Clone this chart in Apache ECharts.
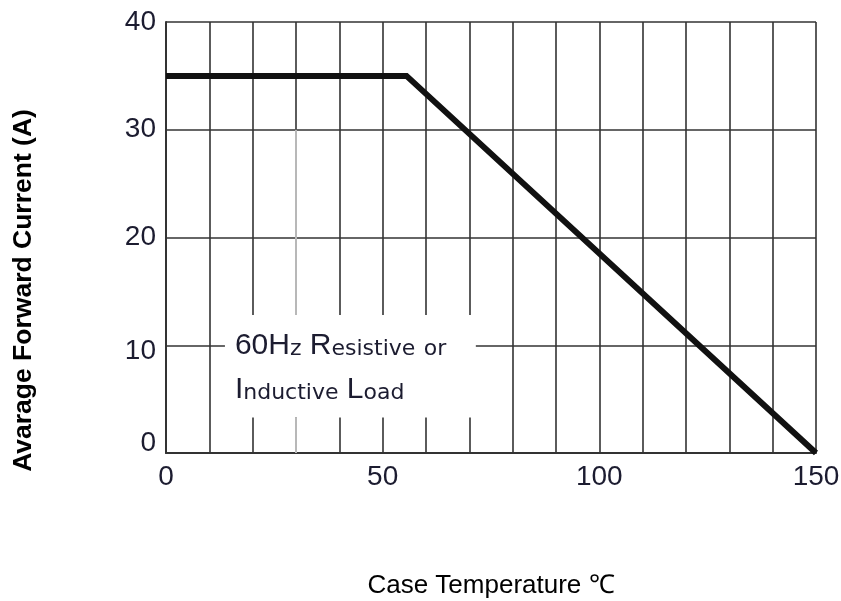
<!DOCTYPE html>
<html>
<head>
<meta charset="utf-8">
<script src="https://cdn.jsdelivr.net/npm/echarts@6/dist/echarts.min.js"></script>
<style>html,body{margin:0;padding:0;background:#fff;}#c{width:841px;height:601px;}</style>
</head>
<body>
<div id="c"></div>
<script>
// Data
const curveX = [0, 55.5, 150];
const curveY = [35, 35, 0];
const xTickLabels = [0, 50, 100, 150];
const yTickLabels = [0, 10, 20, 30, 40];
const noteLines = ['60Hz Resistive or', 'Inductive Load'];
const noteBox = { x0: 13.6, x1: 71.5, y0: 3.3, y1: 12.8 };

const chart = echarts.init(document.getElementById('c'));
const gridColor = '#333333';
const labelFont = '"Liberation Sans Narrow", "Arial Narrow", "Liberation Sans", Arial, sans-serif';

function smallCaps(line) {
  let out = '';
  let buf = '', mode = null;
  for (const ch of line) {
    const m = (/[a-z]/.test(ch)) ? 's' : 'b';
    if (mode !== null && m !== mode) { out += '{' + mode + '|' + buf + '}'; buf = ''; }
    mode = m; buf += ch;
  }
  if (buf) out += '{' + mode + '|' + buf + '}';
  return out;
}

const option = {
  animation: false,
  backgroundColor: '#fff',
  grid: { left: 166, right: 25, top: 22, bottom: 148, containLabel: false, outerBoundsMode: 'none' },
  xAxis: {
    type: 'value', min: 0, max: 150, interval: 10,
    name: 'Case Temperature ℃', nameLocation: 'middle', nameGap: 120,
    nameTextStyle: { fontFamily: '"Liberation Sans", Arial, sans-serif', fontSize: 26, color: '#000' },
    axisLine: { show: true, lineStyle: { color: gridColor, width: 2 } },
    axisTick: { show: false },
    splitLine: { show: true, lineStyle: { color: gridColor, width: 1.6 } },
    axisLabel: {
      margin: 10, fontFamily: labelFont, fontSize: 28, color: '#1c1c30',
      formatter: v => xTickLabels.includes(v) ? String(v) : ''
    }
  },
  yAxis: {
    type: 'value', min: 0, max: 40, interval: 10,
    name: 'Avarage Forward Current (A)', nameLocation: 'middle', nameGap: 129,
    nameTextStyle: { fontFamily: '"Liberation Sans", Arial, sans-serif', fontSize: 26.5, fontWeight: 'bold', color: '#000', padding: [0, 106, 0, 0] },
    axisLine: { show: true, lineStyle: { color: gridColor, width: 2 } },
    axisTick: { show: false },
    splitLine: { show: true, lineStyle: { color: gridColor, width: 1.6 } },
    axisLabel: {
      margin: 10, fontFamily: labelFont, fontSize: 28, color: '#1c1c30',
      formatter: v => {
        if (!yTickLabels.includes(v)) return '';
        if (v === 0) return '{up|' + v + '}';
        if (v === 10) return '{dn|' + v + '}';
        return String(v);
      },
      rich: {
        up: { fontFamily: labelFont, fontSize: 28, color: '#1c1c30', padding: [0, 0, 20, 0] },
        dn: { fontFamily: labelFont, fontSize: 28, color: '#1c1c30', padding: [13, 0, 0, 0] }
      }
    }
  },
  series: [
    {
      type: 'line',
      data: curveX.map((x, i) => [x, curveY[i]]),
      symbol: 'none',
      lineStyle: { color: '#111', width: 6, join: 'miter' },
      z: 5,
      markArea: {
        silent: true,
        itemStyle: { color: '#fff', opacity: 1 },
        label: {
          show: true, position: 'insideLeft', distance: 10, offset: [0, -6],
          formatter: noteLines.map(smallCaps).join('\n'),
          rich: {
            b: { fontFamily: '"Liberation Sans", Arial, sans-serif', fontSize: 30, color: '#1c1c30', lineHeight: 44, verticalAlign: 'bottom' },
            s: { fontFamily: '"DejaVu Sans", sans-serif', fontSize: 22, color: '#1c1c30', lineHeight: 39, verticalAlign: 'bottom' }
          }
        },
        data: [[{ coord: [noteBox.x0, noteBox.y1] }, { coord: [noteBox.x1, noteBox.y0] }]]
      },
      markLine: {
        silent: true, symbol: 'none', label: { show: false },
        lineStyle: { color: '#b8b8b8', width: 2, type: 'solid' },
        data: [
          [{ coord: [30, 0] }, { coord: [30, noteBox.y0] }],
          [{ coord: [30, noteBox.y1] }, { coord: [30, 30] }]
        ]
      }
    }
  ]
};
chart.setOption(option);
</script>
</body>
</html>
